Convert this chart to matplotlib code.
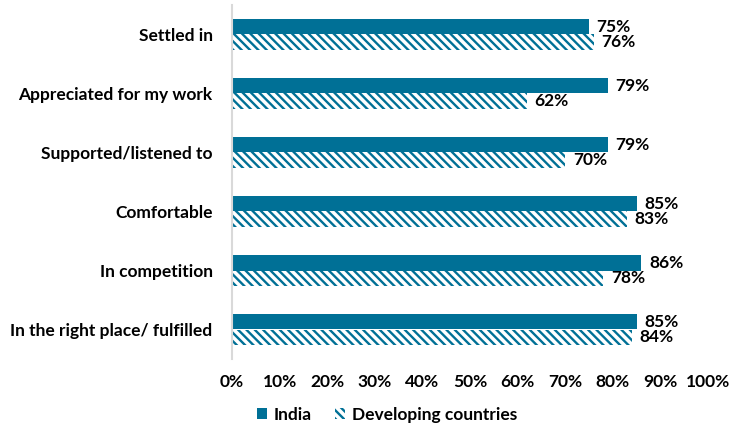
import matplotlib
matplotlib.use("Agg")
import matplotlib.pyplot as plt
import numpy as np
from matplotlib.patches import Patch

categories = ["Settled in", "Appreciated for my work", "Supported/listened to",
              "Comfortable", "In competition", "In the right place/ fulfilled"]
india = [75, 79, 79, 85, 86, 85]
developing = [76, 62, 70, 83, 78, 84]
tick_labels = ["0%", "10%", "20%", "30%", "40%", "50%", "60%", "70%", "80%", "90%", "100%"]
series_names = ["India", "Developing countries"]

teal = "#007096"
plt.rcParams["font.family"] = ["Lato", "DejaVu Sans"]
plt.rcParams["hatch.linewidth"] = 1.7
plt.rcParams["hatch.color"] = teal
hatch = "\\" * 4
fs = 12.5

fig = plt.figure(figsize=(7.49, 4.28), dpi=100)
ax = fig.add_axes([232 / 749, 1 - 359 / 428, (708 - 232) / 749, (359 - 5) / 428])

y = np.arange(len(categories))
h = 0.255
ax.barh(y - h / 2, india, height=h, color=teal, edgecolor="none")
ax.barh(y + h / 2, developing, height=h, facecolor="white", edgecolor=teal,
        hatch=hatch, linewidth=0)

for yi, v in zip(y, india):
    ax.text(v + 1.6, yi - h / 2, f"{v}%", va="center", ha="left",
            fontsize=fs, fontweight="bold", color="black")
for yi, v in zip(y, developing):
    ax.text(v + 1.6, yi + h / 2, f"{v}%", va="center", ha="left",
            fontsize=fs, fontweight="bold", color="black")

ax.set_xlim(0, 100)
ax.set_ylim(len(categories) - 0.5, -0.5)
ax.set_yticks(y)
ax.set_yticklabels(categories, fontsize=fs, fontweight="bold")
ax.set_xticks(np.arange(0, 101, 10))
ax.set_xticklabels(tick_labels, fontsize=fs, fontweight="bold")
ax.tick_params(axis="both", length=0)
ax.tick_params(axis="y", pad=14)
ax.tick_params(axis="x", pad=11)
for s in ["top", "right", "bottom"]:
    ax.spines[s].set_visible(False)
ax.spines["left"].set_color("#d9d9d9")
ax.spines["left"].set_linewidth(1.5)

handles = [Patch(facecolor=teal, edgecolor="none"),
           Patch(facecolor="white", edgecolor=teal, hatch=hatch, linewidth=0)]
fig.legend(handles, series_names, loc="center", bbox_to_anchor=(387 / 749, 1 - 415 / 428),
           ncol=2, frameon=False, prop={"size": fs, "weight": "bold"},
           handlelength=0.6, handleheight=0.6, handletextpad=0.4, columnspacing=1.3)

fig.savefig("out.png", dpi=100)
